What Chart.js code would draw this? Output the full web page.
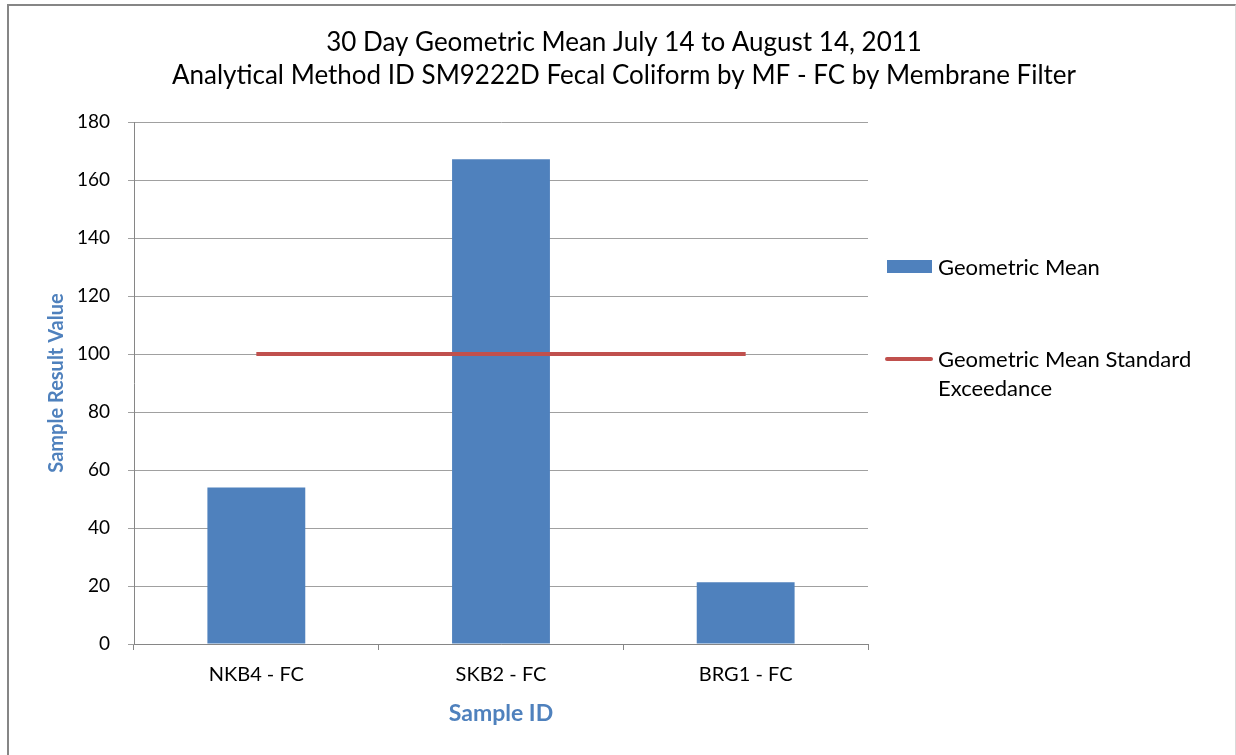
<!DOCTYPE html>
<html>
<head>
<meta charset="utf-8">
<script src="https://cdn.jsdelivr.net/npm/chart.js@4/dist/chart.umd.min.js"></script>
<style>
  html, body { margin: 0; padding: 0; background: #fff; }
  #wrap { position: relative; width: 1236px; height: 755px; overflow: hidden; }
  #frame { position: absolute; left: 7px; top: 4px; width: 1226px; height: 800px;
           border-top: 2px solid #868686; border-left: 2px solid #868686; border-right: 1px solid #d9d9d9; }
  canvas { position: absolute; left: 0; top: 0; }
  .leg { position: absolute; font-family: Lato, sans-serif; font-size: 22px; color: #000; line-height: 29px; white-space: nowrap; }
  .sw { position: absolute; }
</style>
</head>
<body>
<div id="wrap">
  <div id="frame"></div>
  <canvas id="c" width="1236" height="755"></canvas>
  <div class="sw" style="left:887px;top:260px;width:45px;height:13px;background:#4F81BD;"></div>
  <div class="leg" style="left:938px;top:252px;">Geometric Mean</div>
  <div class="sw" style="left:885px;top:357px;width:48px;height:4px;background:#C0504D;border-radius:2px;"></div>
  <div class="leg" style="left:938px;top:344px;">Geometric Mean Standard<br>Exceedance</div>
</div>
<script>
const titleLines = ["30 Day Geometric Mean July 14 to August 14, 2011",
                    "Analytical Method ID SM9222D Fecal Coliform by MF - FC by Membrane Filter"];
const categories = ["NKB4 - FC", "SKB2 - FC", "BRG1 - FC"];
const geometricMean = [54, 167.2, 21.3];
const standardExceedance = [100, 100, 100];
const yTicks = [0, 20, 40, 60, 80, 100, 120, 140, 160, 180];
const seriesNames = ["Geometric Mean", "Geometric Mean Standard Exceedance"];
const xTitle = "Sample ID";
const yTitle = "Sample Result Value";

const FONT = "Lato, sans-serif";
const axisBlue = "#4F81BD";

new Chart(document.getElementById("c"), {
  type: "bar",
  data: {
    labels: categories,
    datasets: [
      { type: "line", label: seriesNames[1], data: standardExceedance, borderColor: "#C0504D",
        backgroundColor: "#C0504D", borderWidth: 4, pointRadius: 0, tension: 0, order: 0,
        borderCapStyle: "butt" },
      { type: "bar", label: seriesNames[0], data: geometricMean, backgroundColor: "#4F81BD",
        borderWidth: 0, categoryPercentage: 1, barPercentage: 0.4, order: 1 }
    ]
  },
  options: {
    responsive: false,
    animation: false,
    layout: { padding: { left: 12, right: 0, top: 0, bottom: 11 } },
    plugins: {
      legend: { display: false },
      tooltip: { enabled: false },
      title: {
        display: true, text: titleLines, color: "#000",
        font: { family: FONT, size: 26, weight: "normal", lineHeight: 1.27 },
        padding: { top: 26, bottom: 30 }
      }
    },
    scales: {
      x: {
        grid: { display: true, drawOnChartArea: false, drawTicks: true, tickLength: 6, color: "#868686", offset: true },
        border: { display: true, color: "#868686", width: 1 },
        ticks: { color: "#000", font: { family: FONT, size: 20 }, padding: 13, maxRotation: 0 },
        title: { display: true, text: xTitle, color: axisBlue,
                 font: { family: FONT, size: 23, weight: "bold" }, padding: { top: 0, bottom: 17 } },
        afterFit: (s) => { s.height = 100; }
      },
      y: {
        min: 0, max: 180,
        afterBuildTicks: (s) => { s.ticks = yTicks.map(v => ({ value: v })); },
        grid: { color: "#a0a0a0", tickLength: 6, drawTicks: true },
        border: { display: true, color: "#868686", width: 1 },
        ticks: { color: "#000", font: { family: FONT, size: 19 }, padding: 18 },
        title: { display: true, text: yTitle, color: axisBlue,
                 font: { family: FONT, size: 20, weight: "bold" }, padding: { top: 33, bottom: 0 } },
        afterFit: (s) => { s.width = 122; }
      },
      legendSpace: {
        position: "right", display: true,
        grid: { display: false, drawTicks: false },
        border: { display: false },
        ticks: { display: false },
        afterFit: (s) => { s.width = 368; }
      }
    }
  }
});
</script>
</body>
</html>
